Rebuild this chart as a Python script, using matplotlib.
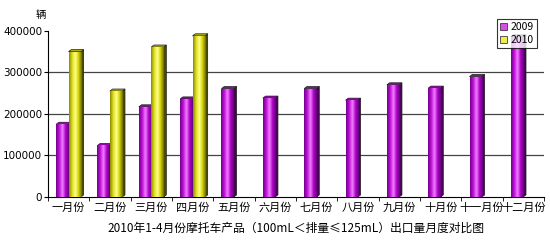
import numpy as np
import matplotlib
matplotlib.use("Agg")
import matplotlib.pyplot as plt
from matplotlib.colors import LinearSegmentedColormap
from matplotlib.patches import Polygon

plt.rcParams['font.family'] = ['Noto Sans CJK SC', 'DejaVu Sans']

months = ['一月份', '二月份', '三月份', '四月份', '五月份', '六月份',
          '七月份', '八月份', '九月份', '十月份', '十一月份', '十二月份']
sales_2009 = [175000, 124000, 217000, 236000, 261000, 238000,
              261000, 233000, 270000, 262000, 290000, 386000]
sales_2010 = [350000, 255000, 361000, 388000]
yticks = [0, 100000, 200000, 300000, 400000]

purple_cmap = LinearSegmentedColormap.from_list(
    'p', ['#70008a', '#c010d8', '#f080ff', '#b000c8', '#60007a'])
yellow_cmap = LinearSegmentedColormap.from_list(
    'y', ['#8a8a00', '#e0e020', '#ffff90', '#d0d000', '#6a6a00'])


def bars_3d(ax, x, h, width, cmap, side, top, label):
    bars = ax.bar(x, h, width, color=cmap(0.6), edgecolor='#202020',
                  linewidth=0.5, label=label, zorder=3)
    grad = np.linspace(0, 1, 64).reshape(1, -1)
    dx, dy = width * 0.22, 5000
    for b in bars:
        x0, x1, y1 = b.get_x(), b.get_x() + b.get_width(), b.get_height()
        im = ax.imshow(grad, cmap=cmap, aspect='auto', zorder=3.5,
                       extent=[x0, x1, 0, y1])
        im.set_clip_path(b)
        ax.add_patch(Polygon([(x1, 0), (x1 + dx, dy), (x1 + dx, y1 + dy), (x1, y1)],
                             closed=True, fc=side, ec='#202020', lw=0.5, zorder=3))
        ax.add_patch(Polygon([(x0, y1), (x0 + dx, y1 + dy), (x1 + dx, y1 + dy), (x1, y1)],
                             closed=True, fc=top, ec='#202020', lw=0.5, zorder=3))
    return bars


fig = plt.figure(figsize=(5.5, 2.45), dpi=100)
ax = fig.add_axes([0.087, 0.196, 0.902, 0.678])

w = 0.3
x = np.arange(len(months))
bars_3d(ax, x - w / 2, sales_2009, w, purple_cmap, '#4a0058', '#9a00b0', '2009')
bars_3d(ax, np.arange(len(sales_2010)) + w / 2, sales_2010, w, yellow_cmap,
        '#4a4a00', '#b0b000', '2010')

ax.set_xlim(-0.5, len(months) - 0.5)
ax.set_ylim(0, 400000)
ax.set_yticks(yticks)
ax.set_yticklabels([str(v) for v in yticks], fontsize=7.5, family='DejaVu Sans')
ax.set_xticks(x)
ax.set_xticklabels(months, fontsize=8)
ax.set_xticks(np.arange(len(months) + 1) - 0.5, minor=True)
ax.tick_params(axis='x', which='major', length=0, pad=4)
ax.tick_params(axis='x', which='minor', length=3, direction='out')
ax.tick_params(axis='y', length=3, pad=1)

for v in yticks[1:-1]:
    ax.axhline(v, color='#444444', lw=0.9, zorder=1)

for s in ['top', 'right']:
    ax.spines[s].set_visible(False)
ax.spines['left'].set_linewidth(0.8)
ax.spines['bottom'].set_linewidth(0.8)

ax.set_xlabel('2010年1-4月份摩托车产品（100mL＜排量≤125mL）出口量月度对比图',
              fontsize=8.5, labelpad=6)
fig.text(0.075, 0.94, '辆', fontsize=7.5, ha='center', va='center')

leg = fig.legend(loc='upper right', bbox_to_anchor=(0.985, 0.945), fontsize=7.5,
                 frameon=True, fancybox=False, edgecolor='black', handlelength=0.7,
                 handleheight=0.7, handletextpad=0.3, borderpad=0.3, labelspacing=0.3)
leg.get_frame().set_linewidth(0.8)
leg.set_zorder(10)

fig.savefig('out.png', dpi=100)
